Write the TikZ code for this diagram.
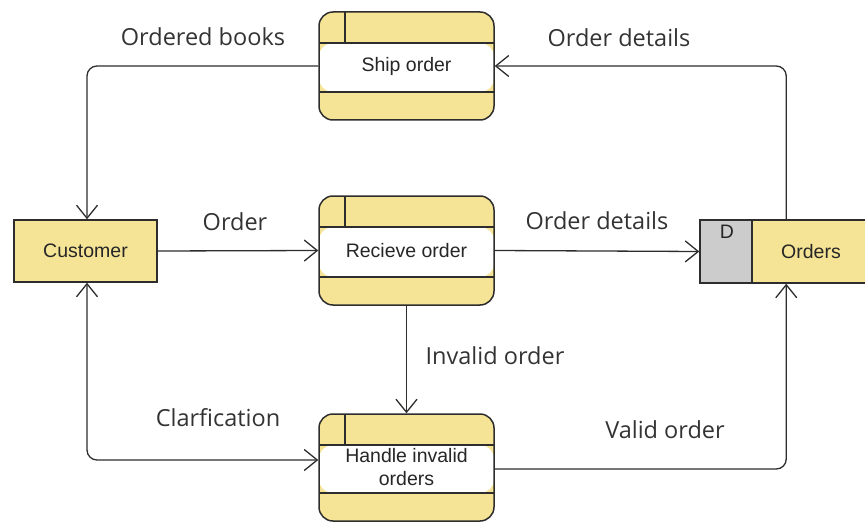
\documentclass[tikz,border=0pt]{standalone}
\usepackage{fontspec}
\newfontfamily\nodefont{Liberation Sans}
\newfontfamily\labelfont{Open Sans}
\usetikzlibrary{arrows.meta,calc}
\definecolor{procyellow}{RGB}{246,228,150}
\definecolor{storegray}{RGB}{204,204,204}
\definecolor{edgeink}{RGB}{45,45,45}
\definecolor{textink}{RGB}{51,51,51}
\tikzset{
  proc/.style={draw=edgeink, line width=1.5pt, fill=procyellow,
    rounded corners=14pt, minimum width=175pt, minimum height=#1,
    inner sep=0pt, align=center, font=\nodefont\fontsize{19.5}{23}\selectfont,
    text=black!85,
    path picture={
      \fill[white] ([yshift=-31pt]path picture bounding box.north west)
        rectangle ([yshift=28pt]path picture bounding box.south east);
      \draw[line width=1.5pt, edgeink]
        ([yshift=-31pt]path picture bounding box.north west) --
        ([yshift=-31pt]path picture bounding box.north east);
      \draw[line width=1.5pt, edgeink]
        ([yshift=28pt]path picture bounding box.south west) --
        ([yshift=28pt]path picture bounding box.south east);
      \draw[line width=1.5pt, edgeink]
        ([xshift=26pt]path picture bounding box.north west) --
        ([xshift=26pt,yshift=-31pt]path picture bounding box.north west);
    }},
  entity/.style={draw=edgeink, line width=1.5pt, fill=procyellow,
    minimum width=143pt, minimum height=62pt, inner sep=0pt,
    font=\nodefont\fontsize{19.5}{23}\selectfont, text=black!85},
  storeid/.style={draw=edgeink, line width=1.5pt, fill=storegray,
    minimum width=52pt, minimum height=63pt, inner sep=0pt},
  storebody/.style={draw=edgeink, line width=1.5pt, fill=procyellow,
    minimum width=128pt, minimum height=63pt, inner sep=0pt},
  storetext/.style={font=\nodefont\fontsize{19.5}{23}\selectfont, text=black!85, inner sep=0pt},
  flowtip/.tip={Straight Barb[length=13pt, width=21pt, line width=1.3pt]},
  flow/.style={draw=edgeink, line width=1.3pt, -flowtip, rounded corners=10pt},
  flowboth/.style={draw=edgeink, line width=1.3pt, flowtip-flowtip, rounded corners=10pt},
  flowlabel/.style={font=\labelfont\fontsize{23.5}{27}\selectfont, text=textink, inner sep=0pt}
}
\begin{document}
\begin{tikzpicture}[x=1pt, y=-1pt]
  \useasboundingbox (0,0) rectangle (865,524);
  \clip (0,0) rectangle (865,524);

  % processes
  \node[proc=108pt] (ship)   at (406.5,66)   {Ship order};
  \node[proc=109pt] (recv)   at (406.5,250.5) {Recieve order};
  \node[proc=107pt] (handle) at (406.5,467.5) {Handle invalid\\orders};

  % external entity
  \node[entity] (cust) at (85.5,251) {Customer};

  % data store
  \node[storeid]   (dbox)   at (726,251.5) {};
  \node[storebody] (ostore) at (816,251.5) {};
  \node[storetext] (dlabel) at (727,232) {D};
  \node[storetext] (olabel) at (811,251.5) {Orders};

  % data flows
  \draw[flow] (cust.east) -- (recv.west);
  \draw[flow] (recv.east) -- (dbox.west);
  \draw[flow] (recv.south) -- (handle.north);
  \draw[flow] (ship.west) -| ([xshift=1.5pt]cust.north);
  \draw[flow] ([xshift=35pt]ostore.north west) |- (ship.east);
  \draw[flowboth] ([yshift=7.5pt]handle.west) -| ([xshift=1.5pt]cust.south);
  \draw[flow] ([yshift=-1.5pt]handle.east) -| ([xshift=35pt]ostore.south west);

  % flow labels
  \node[flowlabel] (l1) at (203,37)  {Ordered books};
  \node[flowlabel] (l2) at (619,38)  {Order details};
  \node[flowlabel] (l3) at (235,222) {Order};
  \node[flowlabel] (l4) at (597,221) {Order details};
  \node[flowlabel] (l5) at (495,356) {Invalid order};
  \node[flowlabel] (l6) at (218,418) {Clarfication};
  \node[flowlabel] (l7) at (665,430) {Valid order};
\end{tikzpicture}
\end{document}
